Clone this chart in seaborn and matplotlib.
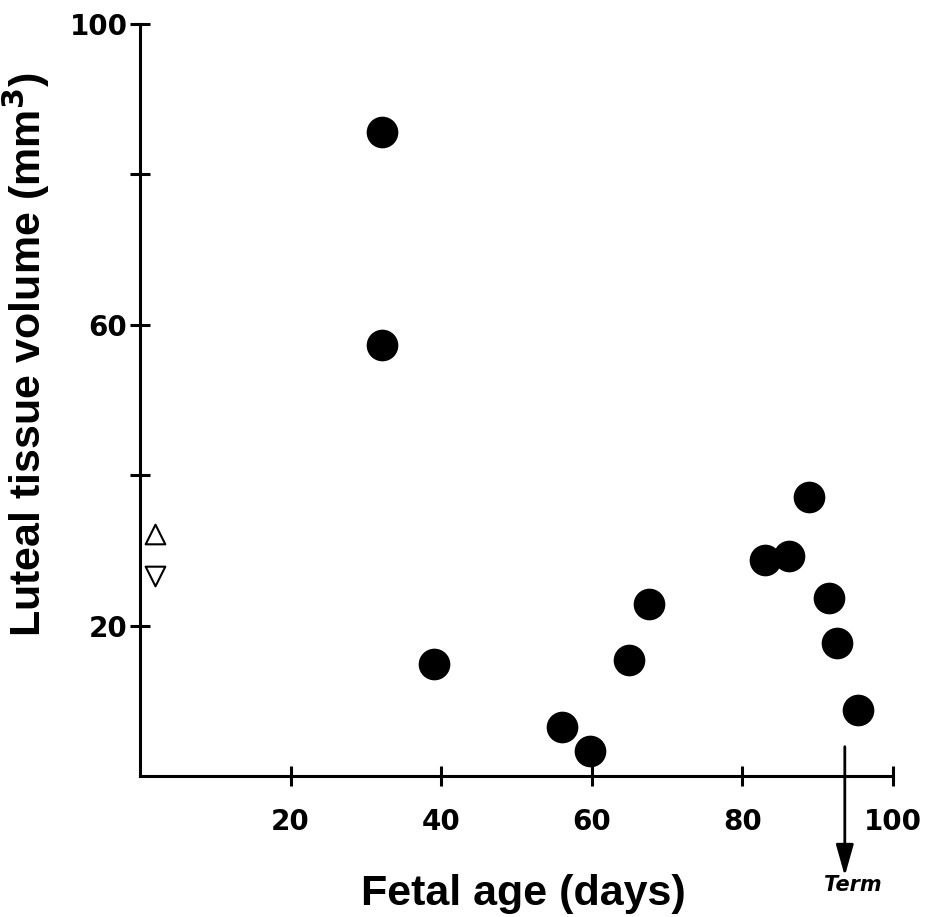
import matplotlib
matplotlib.use("Agg")
import matplotlib.pyplot as plt
import seaborn as sns
import pandas as pd

# Data
fetal_age = [32.1, 32.1, 39.0, 56.0, 59.8, 64.9, 67.6, 83.0, 86.2, 88.8, 91.5, 92.6, 95.4]
luteal_volume = [85.6, 57.3, 14.9, 6.5, 3.3, 15.4, 22.9, 28.7, 29.3, 37.1, 23.7, 17.7, 8.8]
tri_up = (2.0, 32.2)
tri_down = (2.0, 26.6)
term_age = 93.6
x_ticks = [20, 40, 60, 80, 100]
y_ticks = [20, 40, 60, 80, 100]
y_ticklabels = ["20", "", "60", "", "100"]

sns.set_theme(style="ticks")
plt.rcParams['font.family'] = ['Liberation Sans', 'DejaVu Sans']
plt.rcParams['text.color'] = 'black'
plt.rcParams['axes.labelcolor'] = 'black'

fig = plt.figure(figsize=(9.32, 9.17), dpi=100)
W, H = 932, 917
x0, x1, y0, y1 = 140, 893, 776, 24
ax = fig.add_axes([x0 / W, 1 - y0 / H, (x1 - x0) / W, (y0 - y1) / H])

df = pd.DataFrame({"age": fetal_age, "vol": luteal_volume})
sns.scatterplot(data=df, x="age", y="vol", ax=ax, s=520, color="black",
                edgecolor="black", linewidth=0, marker="o", clip_on=False, zorder=3)
ax.scatter([tri_up[0]], [tri_up[1]], marker="^", s=200, facecolors="white",
           edgecolors="black", linewidths=1.5, clip_on=False, zorder=3)
ax.scatter([tri_down[0]], [tri_down[1]], marker="v", s=200, facecolors="white",
           edgecolors="black", linewidths=1.5, clip_on=False, zorder=3)

ax.set_xlim(0, 100)
ax.set_ylim(0, 100)
ax.set_xticks(x_ticks)
ax.set_xticklabels([str(t) for t in x_ticks])
ax.set_yticks(y_ticks)
ax.set_yticklabels(y_ticklabels)

for side in ["top", "right"]:
    ax.spines[side].set_visible(False)
for side in ["left", "bottom"]:
    ax.spines[side].set_linewidth(2.2)
    ax.spines[side].set_color("black")

ax.tick_params(axis="both", direction="inout", length=14, width=2.2, colors="black",
               labelsize=20, labelcolor="black")
ax.tick_params(axis="x", pad=16)
ax.tick_params(axis="y", pad=2)
for lab in ax.get_xticklabels() + ax.get_yticklabels():
    lab.set_fontweight("bold")
    lab.set_fontfamily("DejaVu Sans")

ax.set_xlabel("Fetal age (days)", fontsize=31, fontweight="bold", color="black")
ax.set_ylabel("Luteal tissue volume (mm$^\\mathbf{3}$)", fontsize=31, fontweight="bold",
              color="black")
ax.xaxis.set_label_coords(0.509, -0.130)
ax.yaxis.set_label_coords(-0.117, 0.56)

ax.annotate("", xy=(term_age, -13.3), xytext=(term_age, 3.9),
            xycoords="data", textcoords="data", annotation_clip=False,
            arrowprops=dict(arrowstyle="-|>,head_length=1.6,head_width=0.45",
                            color="black", lw=2.0, shrinkA=0, shrinkB=0))
ax.text(term_age + 1.0, -14.5, "Term", fontsize=15, fontweight="bold", style="italic",
        family="DejaVu Sans", color="black", ha="center", va="center", clip_on=False)

ax.set_facecolor("white")
fig.patch.set_facecolor("white")
fig.savefig("out.png", dpi=100, facecolor="white")
